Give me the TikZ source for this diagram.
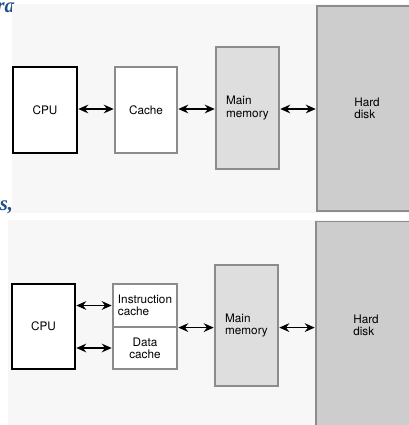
\documentclass[tikz,border=0pt]{standalone}
\usepackage{fontspec}
\newfontfamily\helv{TeX Gyre Heros}
\newfontfamily\bookfont{Liberation Serif}
\usetikzlibrary{arrows.meta}
\definecolor{panelgray}{HTML}{F7F7F7}
\definecolor{memgray}{HTML}{DEDEDE}
\definecolor{diskgray}{HTML}{CDCDCD}
\definecolor{edgegray}{HTML}{8C8C8C}
\definecolor{bookblue}{HTML}{1F4E8C}
\tikzset{every picture/.style={line width=0.75pt}}
\tikzset{
    unit/.style={draw=edgegray, line width=0.9pt, inner sep=0pt, font=\helv\fontsize{8.8}{9.2}\selectfont},
    link/.style={<->, >={Stealth[length=7.5pt,width=6.5pt]}, line width=1.1pt, shorten <=0.5pt, shorten >=0.5pt}}

\begin{document}
\begin{tikzpicture}[x=0.75pt,y=0.75pt,yscale=-1,xscale=1]
            \useasboundingbox (0,0) rectangle (409,425);

            %Page text
            \draw (20,12) node [anchor = base east] [font=\bookfont\bfseries\itshape\fontsize{15.5}{16}\selectfont] [text=bookblue] {ra};
            \draw (18,210) node [anchor = base east] [font=\bookfont\bfseries\itshape\fontsize{15.5}{16}\selectfont] [text=bookblue] {os,};

            %Panels
            \fill [panelgray] (12,4) rectangle (409,213);
            \fill [panelgray] (8,220) rectangle (409,425);

            %One cache
            \node [unit, draw=black, fill=white, minimum width=64*0.75pt, minimum height=86*0.75pt] (cpuA) at (45,110) {CPU};
            \node [unit, fill=white, minimum width=62*0.75pt, minimum height=86*0.75pt] (cacheA) at (146,110) {Cache};
            \node [unit, fill=memgray, align=left, minimum width=63*0.75pt, minimum height=122*0.75pt] (memA) at (247.5,108) {Main\\memory};
            \node [unit, fill=diskgray, align=left, minimum width=100*0.75pt, minimum height=205*0.75pt] (diskA) at (367,108.5) {Hard\\disk};
            \draw [link] (cpuA.east |- 0,109) -- (cacheA.west |- 0,109);
            \draw [link] (cacheA.east |- 0,109) -- (memA.west |- 0,109);
            \draw [link] (memA.east |- 0,109) -- (diskA.west |- 0,109);

            %Split cache
            \node [unit, draw=black, fill=white, minimum width=63*0.75pt, minimum height=85*0.75pt] (cpuB) at (43.5,326.5) {CPU};
            \node [unit, fill=white, align=left, minimum width=64*0.75pt, minimum height=43*0.75pt] (icache) at (145,305.5) {Instruction\\cache};
            \node [unit, fill=white, align=center, minimum width=64*0.75pt, minimum height=42*0.75pt] (dcache) at (145,348) {Data\\cache};
            \node [unit, fill=memgray, align=left, minimum width=63*0.75pt, minimum height=121*0.75pt] (memB) at (246.5,325.5) {Main\\memory};
            \node [unit, fill=diskgray, align=left, minimum width=100*0.75pt, minimum height=207*0.75pt] (diskB) at (366,325) {Hard\\disk};
            \draw [link] (cpuB.east |- icache.west) -- (icache.west);
            \draw [link] (cpuB.east |- dcache.west) -- (dcache.west);
            \draw [link] (icache.south east) -- (memB.west |- icache.south east);
            \draw [link] (memB.east |- icache.south east) -- (diskB.west |- icache.south east);
\end{tikzpicture}
\end{document}
